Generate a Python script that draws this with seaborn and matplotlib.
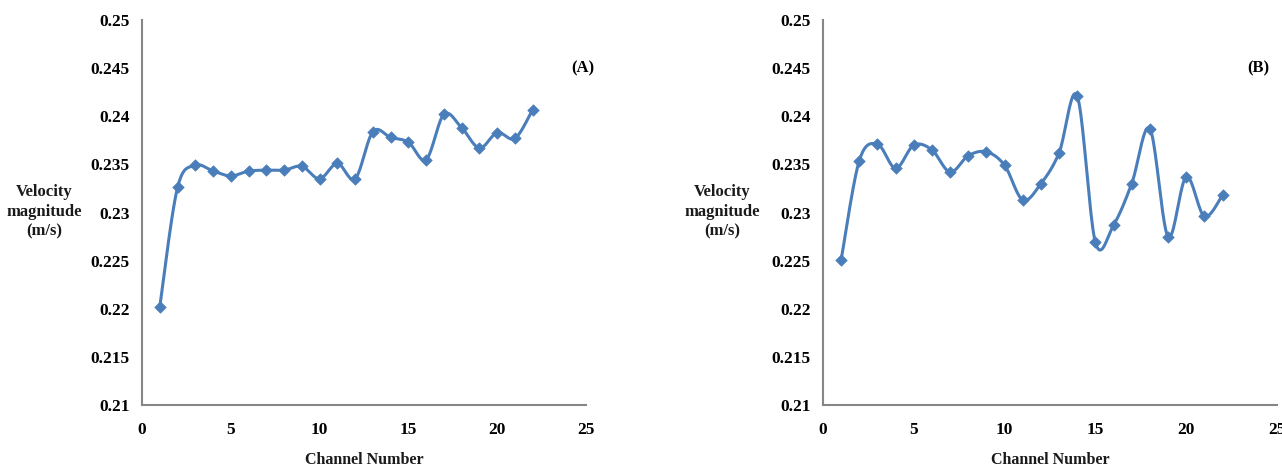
import numpy as np
import pandas as pd
import matplotlib
matplotlib.use("Agg")
import matplotlib.pyplot as plt
import seaborn as sns

channels = list(range(1, 23))
velocity_a = [0.2202, 0.2326, 0.2349, 0.2343, 0.2338, 0.2343, 0.2344, 0.2344, 0.2348, 0.2335, 0.2351,
              0.2335, 0.2384, 0.2378, 0.2373, 0.2355, 0.2402, 0.2388, 0.2367, 0.2383, 0.2377, 0.2407]
velocity_b = [0.2251, 0.2354, 0.2371, 0.2346, 0.2370, 0.2365, 0.2342, 0.2359, 0.2363, 0.2349, 0.2313,
              0.2330, 0.2362, 0.2421, 0.2269, 0.2287, 0.2330, 0.2387, 0.2275, 0.2337, 0.2296, 0.2318]
panel_labels = ["(A)", "(B)"]
y_ticks = [0.21, 0.215, 0.22, 0.225, 0.23, 0.235, 0.24, 0.245, 0.25]
x_ticks = [0, 5, 10, 15, 20, 25]

sns.set_theme(style="white")
plt.rcParams['font.family'] = ['Liberation Serif', 'DejaVu Serif']
plt.rcParams['font.weight'] = 'bold'

LINE = "#4A7EBB"
AXC = "#868686"


def smooth(x, y, n=20):
    # Excel-like smoothed line (Catmull-Rom / Bezier through the data points)
    x = np.asarray(x, float); y = np.asarray(y, float)
    px = np.concatenate([[x[0]], x, [x[-1]]])
    py = np.concatenate([[y[0]], y, [y[-1]]])
    xs, ys = [], []
    t = np.linspace(0, 1, n, endpoint=False)
    for i in range(1, len(px) - 2):
        p0, p1, p2, p3 = (np.array([px[j], py[j]]) for j in (i - 1, i, i + 1, i + 2))
        c1 = p1 + (p2 - p0) / 6.0
        c2 = p2 - (p3 - p1) / 6.0
        for tt in t:
            b = ((1 - tt) ** 3) * p1 + 3 * ((1 - tt) ** 2) * tt * c1 + 3 * (1 - tt) * tt ** 2 * c2 + tt ** 3 * p2
            xs.append(b[0]); ys.append(b[1])
    xs.append(x[-1]); ys.append(y[-1])
    return np.array(xs), np.array(ys)


fig = plt.figure(figsize=(12.82, 4.68), dpi=100)
ax_a = fig.add_axes([142 / 1282, 1 - 405 / 468, 444 / 1282, 385 / 468])
ax_b = fig.add_axes([823 / 1282, 1 - 405 / 468, 454 / 1282, 385 / 468])

for ax, vals, lab, lx in [(ax_a, velocity_a, panel_labels[0], 0.993),
                          (ax_b, velocity_b, panel_labels[1], 0.958)]:
    sx, sy = smooth(channels, vals)
    curve = pd.DataFrame({"x": sx, "y": sy})
    pts = pd.DataFrame({"Channel": channels, "Velocity": vals})
    sns.lineplot(data=curve, x="x", y="y", sort=False, estimator=None, color=LINE, lw=2.2, ax=ax)
    sns.scatterplot(data=pts, x="Channel", y="Velocity", marker="D", s=34, color=LINE,
                    edgecolor=LINE, linewidth=0.5, ax=ax, zorder=3)
    ax.set_xlim(0, 25)
    ax.set_ylim(0.21, 0.25)
    ax.set_xticks(x_ticks)
    ax.set_yticks(y_ticks)
    ax.set_yticklabels([f"{v:g}" for v in y_ticks])
    ax.set_xticklabels([str(v) for v in x_ticks])
    ax.set_xlabel("")
    ax.set_ylabel("")
    for s in ["top", "right"]:
        ax.spines[s].set_visible(False)
    for s in ["left", "bottom"]:
        ax.spines[s].set_color(AXC)
        ax.spines[s].set_linewidth(1.5)
    ax.tick_params(axis="both", direction="out", length=5, width=1.5, color=AXC,
                   labelsize=12.5, labelcolor="black")
    ax.tick_params(axis="y", pad=4)
    ax.tick_params(axis="x", pad=7)
    for t in ax.get_xticklabels() + ax.get_yticklabels():
        t.set_fontweight("bold")
    ax.grid(False)
    ax.text(lx, 0.875, lab, transform=ax.transAxes, fontsize=12, fontweight="bold",
            ha="center", va="center", color="black")

fig.text(44 / 1282, 1 - 212 / 468, "Velocity\nmagnitude\n(m/s)", ha="center", va="center",
         fontsize=12, fontweight="bold", color="#1a1a1a", linespacing=1.3)
fig.text(722 / 1282, 1 - 212 / 468, "Velocity\nmagnitude\n(m/s)", ha="center", va="center",
         fontsize=12, fontweight="bold", color="#1a1a1a", linespacing=1.3)
fig.text(364 / 1282, 1 - 460 / 468, "Channel Number", ha="center", va="center",
         fontsize=11.5, fontweight="bold", color="#1a1a1a")
fig.text(1050 / 1282, 1 - 460 / 468, "Channel Number", ha="center", va="center",
         fontsize=11.5, fontweight="bold", color="#1a1a1a")

fig.savefig("out.png", dpi=100)
